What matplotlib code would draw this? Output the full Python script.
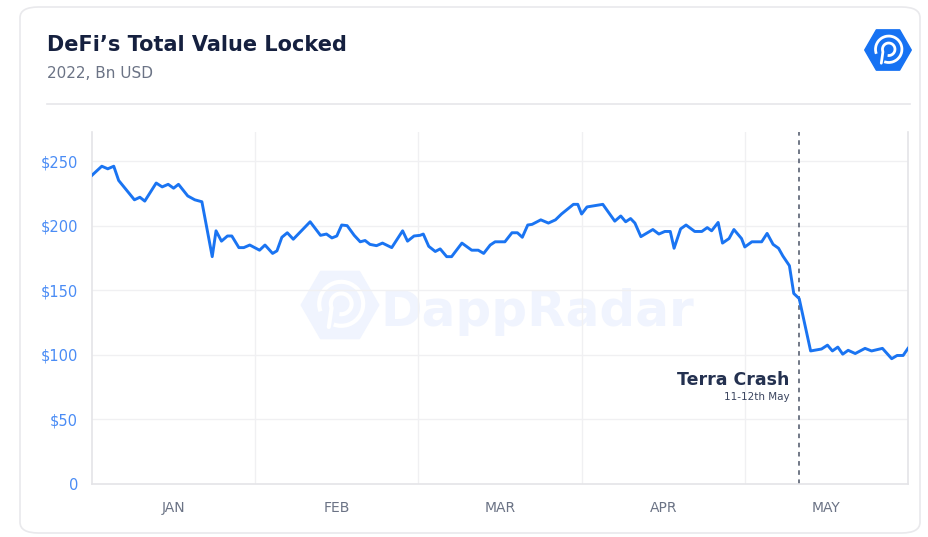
import matplotlib
matplotlib.use("Agg")
import matplotlib.pyplot as plt
from matplotlib.patches import FancyBboxPatch, RegularPolygon, Arc
import numpy as np

# ---- data (day offsets within a 5-month window, TVL in Bn USD) ----
days = [0, 1.8, 2.9, 4.0, 4.9, 7.8, 8.8, 9.7, 11.8, 12.9, 14.0, 15.0, 15.9, 17.6, 18.9,
        20.2, 22.1, 22.8, 23.8, 24.9, 25.7, 27.0, 27.9, 29.0, 30.8, 31.8, 33.2, 34.0, 34.9,
        35.9, 37.0, 40.1, 42.0, 43.1, 44.1, 45.0, 45.9, 46.9, 48.2, 49.3, 50.2, 51.1, 52.3,
        53.4, 55.1, 57.1, 58.0, 59.2, 60.3, 60.9, 61.9, 63.1, 64.0, 65.2, 66.1, 68.0, 69.8,
        71.0, 72.0, 73.2, 74.1, 75.9, 77.2, 78.2, 79.1, 80.1, 80.9, 82.5, 83.9, 85.2, 86.3,
        88.5, 89.3, 90.0, 91.0, 93.9, 96.1, 97.2, 98.1, 99.0, 99.8, 100.9, 103.1, 104.2,
        105.3, 106.3, 107.0, 108.2, 109.2, 110.8, 112.1, 113.1, 113.9, 115.1, 115.9, 117.1,
        118.0, 119.4, 120.0, 121.3, 123.1, 124.1, 125.2, 126.2, 127.0, 128.2, 129.0, 130.0,
        132.1, 134.1, 135.2, 136.1, 137.1, 138.0, 139.0, 140.3, 142.1, 143.3, 145.3, 147.0,
        148.0, 149.1, 150.0]
tvl = [239, 246, 244, 246, 235, 220, 222, 219, 233, 230, 232, 229, 232, 223, 220,
       218.5, 176, 196, 188, 192, 192, 183, 183, 185, 181, 185, 178.5, 180.5, 191,
       194.5, 189.5, 203, 192.5, 193.5, 190.5, 192, 200.5, 200, 192.5, 187.5, 188.5, 185.5, 184.5,
       186.5, 183, 196, 188, 192, 192.5, 193.5, 184, 180, 182, 176, 176, 186.5, 181,
       181, 178.5, 185, 187.5, 187.5, 194.5, 194.5, 191, 200.5, 201, 204.5, 202, 204.5, 209,
       216.5, 216.5, 209, 214.5, 216.5, 203.5, 207.5, 203, 205.5, 202, 191.5, 197, 193.5,
       195.5, 195.5, 182.5, 197.5, 200.5, 195.5, 195.5, 198.5, 196, 202.5, 186.5, 190,
       197, 190, 183.5, 187.5, 187.5, 194, 185.5, 182.5, 176.5, 169, 147.5, 143.5,
       103, 104.5, 107.5, 103, 106, 100.5, 103.5, 101, 105, 103, 105, 97,
       99.5, 99.5, 105]
month_labels = ["JAN", "FEB", "MAR", "APR", "MAY"]
month_centers = [15, 45, 75, 105, 135]
month_bounds = [30, 60, 90, 120]
y_ticks = [0, 50, 100, 150, 200, 250]
y_labels = ["0", "$50", "$100", "$150", "$200", "$250"]
crash_day = 130

W, H = 929, 537
fig = plt.figure(figsize=(W / 100, H / 100), dpi=100)
fig.patch.set_facecolor("white")

# card background
card = FancyBboxPatch((20 / W, 4 / H), 900 / W, 526 / H,
                      boxstyle="round,pad=0,rounding_size=0.02",
                      transform=fig.transFigure, facecolor="white",
                      edgecolor="#e9e9ec", linewidth=1.2, zorder=-10)
fig.patches.append(card)

navy = "#15203f"
fig.text(47 / W, 1 - 45 / H, "DeFi’s Total Value Locked", fontsize=15, fontweight="bold",
         color=navy, va="center", ha="left")
fig.text(47 / W, 1 - 74 / H, "2022, Bn USD", fontsize=11, color="#6b7385",
         va="center", ha="left")
fig.add_artist(plt.Line2D([47 / W, 910 / W], [1 - 104 / H, 1 - 104 / H],
                          transform=fig.transFigure, color="#e6e6ea", linewidth=1.2))


def radar_logo(axl, color, ring_color, lw):
    axl.set_xlim(-1, 1); axl.set_ylim(-1, 1); axl.set_aspect("equal"); axl.axis("off")
    axl.add_patch(RegularPolygon((0, 0), 6, radius=0.97, orientation=np.pi / 6,
                                 facecolor=color, edgecolor=color, linewidth=1,
                                 joinstyle="round"))
    axl.add_patch(Arc((0.03, 0.03), 1.1, 1.1, theta1=250, theta2=200, color=ring_color, lw=lw))
    axl.add_patch(Arc((0.03, 0.03), 0.52, 0.52, theta1=260, theta2=200, color=ring_color, lw=lw))
    axl.plot([-0.21, -0.28], [-0.07, -0.55], color=ring_color, lw=lw, solid_capstyle="round")


# logo
lax = fig.add_axes([864 / W, 1 - 74 / H, 48 / W, 48 / H])
radar_logo(lax, "#1672f3", "white", 2.0)

# watermark logo (behind main axes)
wax = fig.add_axes([300 / W, 1 - 345 / H, 80 / W, 80 / H], zorder=-1)
radar_logo(wax, "#f0f4fe", "white", 3.0)

# main axes
ax = fig.add_axes([92 / W, 1 - 484 / H, 816 / W, 352 / H])
ax.set_xlim(0, 150)
ax.set_ylim(0, 272.5)

# watermark text
ax.text(81.8, 133, "DappRadar", fontsize=36, fontweight="bold", color="#f0f4fe",
        ha="center", va="center", zorder=0.5)

for yv in y_ticks[1:]:
    ax.axhline(yv, color="#f0f0f2", linewidth=1, zorder=1)
for xv in month_bounds:
    ax.axvline(xv, color="#f0f0f2", linewidth=1, zorder=1)

ax.plot(days, tvl, color="#1a74f2", linewidth=2.1, zorder=3, solid_joinstyle="round")

ax.axvline(crash_day, color="#4a5366", linewidth=1.1, linestyle=(0, (3, 3)), zorder=2)
ax.text(128.2, 80.5, "Terra Crash", fontsize=12.5, fontweight="bold", color="#243150",
        ha="right", va="center", zorder=4)
ax.text(128.2, 67, "11-12th May", fontsize=7.5, color="#3c4660",
        ha="right", va="center", zorder=4)

ax.spines["top"].set_visible(False)
for side in ["left", "bottom", "right"]:
    ax.spines[side].set_color("#e4e4e8")
    ax.spines[side].set_linewidth(1.2)

ax.set_yticks(y_ticks)
ax.set_yticklabels(y_labels, color="#4a8cf5", fontsize=10.5, fontweight="medium")
ax.set_xticks(month_centers)
ax.set_xticklabels(month_labels, color="#6b7385", fontsize=10)
ax.tick_params(axis="both", length=0)
ax.tick_params(axis="y", pad=10)
ax.tick_params(axis="x", pad=12)
ax.set_facecolor("none")

fig.savefig("out.png", dpi=100)
